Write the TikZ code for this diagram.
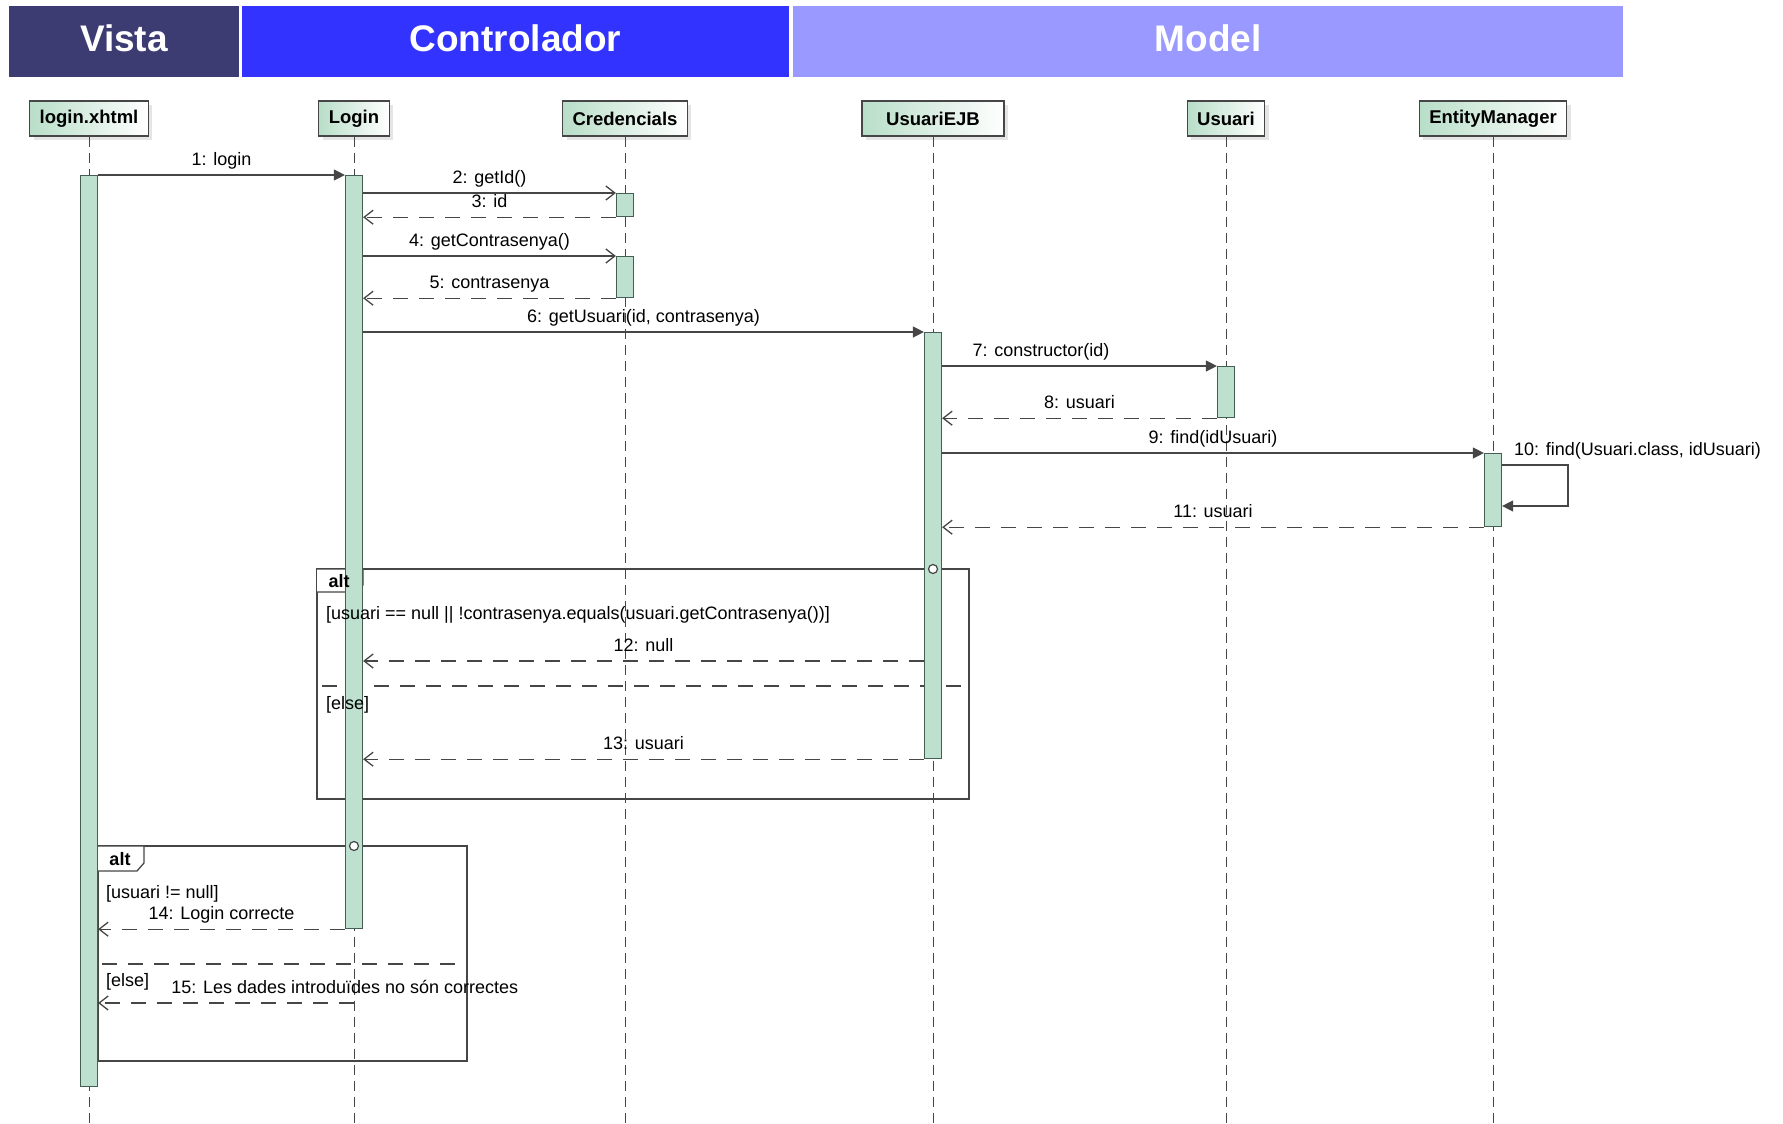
\documentclass[tikz,border=0pt]{standalone}
\usepackage{fontspec}
\setmainfont{Liberation Sans}
\usetikzlibrary{arrows.meta,shadows}
\definecolor{vistablue}{RGB}{60,60,115}
\definecolor{ctrlblue}{RGB}{51,51,255}
\definecolor{modelblue}{RGB}{153,153,255}
\definecolor{headgreen}{RGB}{184,222,200}
\definecolor{actgreen}{RGB}{190,224,206}
\definecolor{actline}{RGB}{70,95,85}
\definecolor{linegray}{RGB}{70,70,70}
\tikzset{
  layer_hdr/.style = {text=white, font=\fontsize{37}{40}\selectfont\bfseries, inner sep=0pt, minimum height=71pt,
    text height=26.5pt, text depth=7pt},
  ll_head/.style = {draw=linegray, line width=1.2pt, left color=headgreen, right color=white,
    font=\fontsize{18.5}{20}\selectfont\bfseries, minimum height=35pt, inner xsep=10pt,
    drop shadow={shadow xshift=4pt, shadow yshift=-4pt, fill=gray!40}},
  lifeline/.style = {draw=linegray, line width=1pt, dash pattern=on 10pt off 6pt},
  act_bar/.style = {draw=actline, fill=actgreen, line width=1.2pt, minimum width=17pt, inner sep=0pt, anchor=north},
  msg_sync/.style = {draw=linegray, line width=1.3pt, -{Triangle[length=11pt,width=11pt]}},
  msg_call/.style = {draw=linegray, line width=1.3pt, -{Straight Barb[length=9pt,width=14pt]}},
  msg_ret/.style = {msg_call, dash pattern=on 15pt off 11pt},
  msg_lbl/.style = {font=\fontsize{18}{20}\selectfont, above=4pt, inner sep=1pt, text=black,
    text height=13pt, text depth=4pt},
  frame/.style = {draw=linegray, line width=1.3pt},
  frame_sep/.style = {frame, dash pattern=on 15pt off 11pt},
  guard/.style = {font=\fontsize{18}{20}\selectfont, anchor=west, inner sep=0pt},
  alt_tag/.style = {font=\fontsize{18}{20}\selectfont\bfseries, inner sep=0pt},
  gate/.style = {circle, draw=linegray, fill=white, line width=1.2pt, minimum size=9pt, inner sep=0pt}
}

\begin{document}
\begin{tikzpicture}[x=1pt, y=-1pt]
\useasboundingbox (0,0) rectangle (1783,1124);
% capes
\node[layer_hdr, fill=vistablue, minimum width=230pt] (p_vista) at (124,41.5) {Vista};
\node[layer_hdr, fill=ctrlblue, minimum width=547pt] (p_ctrl) at (515.5,41.5) {Controlador};
\node[layer_hdr, fill=modelblue, minimum width=830pt] (p_model) at (1208,41.5) {Model};

% objectes
\node[ll_head] (h_view) at (89,118.5) {login.xhtml};
\node[ll_head] (h_login) at (354,118.5) {Login};
\node[ll_head] (h_cred) at (625,118.5) {Credencials};
\node[ll_head, minimum width=142pt] (h_ejb) at (933,118.5) {UsuariEJB};
\node[ll_head] (h_usu) at (1226,118.5) {Usuari};
\node[ll_head] (h_em) at (1493,118.5) {EntityManager};

\coordinate (bot) at (0,1124);
\draw[lifeline] (h_view.south) -- (h_view.south |- bot);
\draw[lifeline] (h_login.south) -- (h_login.south |- bot);
\draw[lifeline] (h_cred.south) -- (h_cred.south |- bot);
\draw[lifeline] (h_ejb.south) -- (h_ejb.south |- bot);
\draw[lifeline] (h_usu.south) -- (h_usu.south |- bot);
\draw[lifeline] (h_em.south) -- (h_em.south |- bot);

% fragments alt
\draw[frame] (317,569) rectangle (969,799);
\draw[frame, fill=white] (317,569) -- (363,569) -- (363,585) -- (356,592) -- (317,592);
\draw[frame_sep] (322,686) -- (969,686);

\draw[frame] (98,846) rectangle (467,1061);
\draw[frame, fill=white] (98,846) -- (144,846) -- (144,863) -- (137,871) -- (98,871);
\draw[frame_sep] (102,964) -- (455,964);

% activacions
\node[act_bar, minimum height=911pt] (a_view) at (89,175) {};
\node[act_bar, minimum height=753pt] (a_login) at (354,175) {};
\node[act_bar, minimum height=23pt] (a_cred1) at (625,193) {};
\node[act_bar, minimum height=41pt] (a_cred2) at (625,256) {};
\node[act_bar, minimum height=426pt] (a_ejb) at (933,332) {};
\node[act_bar, minimum height=51pt] (a_usu) at (1226,366) {};
\node[act_bar, minimum height=73pt] (a_em) at (1493,453) {};

% textos dels fragments
\node[alt_tag] (t_alt1) at (339,581) {alt};
\node[guard] (g_null) at (326,615) {[usuari == null || !contrasenya.equals(usuari.getContrasenya())]};
\node[guard] (g_else1) at (326,705) {[else]};
\node[alt_tag] (t_alt2) at (120,859) {alt};
\node[guard] (g_ok) at (106,894) {[usuari != null]};
\node[guard] (g_else2) at (106,982) {[else]};

% missatges
\coordinate (r12) at (0,661);
\coordinate (r15) at (0,1003);
\draw[msg_sync] (a_view.north east) -- (a_login.north west) node[msg_lbl, midway] {1: login};
\draw[msg_call] (a_cred1.north west -| a_login.east) -- (a_cred1.north west) node[msg_lbl, midway] {2: getId()};
\draw[msg_ret] (a_cred1.south west) -- (a_cred1.south west -| a_login.east) node[msg_lbl, midway] {3: id};
\draw[msg_call] (a_cred2.north west -| a_login.east) -- (a_cred2.north west) node[msg_lbl, midway] {4: getContrasenya()};
\draw[msg_ret] (a_cred2.south west) -- (a_cred2.south west -| a_login.east) node[msg_lbl, midway] {5: contrasenya};
\draw[msg_sync] (a_ejb.north west -| a_login.east) -- (a_ejb.north west) node[msg_lbl, midway] {6: getUsuari(id, contrasenya)};
\draw[msg_sync] (a_usu.north west -| a_ejb.east) -- (a_usu.north west) node[msg_lbl, pos=0.36] {7: constructor(id)};
\draw[msg_ret] (a_usu.south west) -- (a_usu.south west -| a_ejb.east) node[msg_lbl, midway] {8: usuari};
\draw[msg_sync] (a_em.north west -| a_ejb.east) -- (a_em.north west) node[msg_lbl, midway] {9: find(idUsuari)};
\draw[msg_sync] ([yshift=-12pt]a_em.north east) -- ++(66,0) |- ([yshift=-53pt]a_em.north east);
\node[msg_lbl, above=0pt, anchor=west] (l_find) at (1513,455) {10: find(Usuari.class, idUsuari)};
\draw[msg_ret] (a_em.south west) -- (a_em.south west -| a_ejb.east) node[msg_lbl, midway] {11: usuari};
\draw[msg_ret] (r12 -| a_ejb.west) -- (r12 -| a_login.east) node[msg_lbl, midway] {12: null};
\draw[msg_ret] (a_ejb.south west) -- (a_ejb.south west -| a_login.east) node[msg_lbl, midway] {13: usuari};
\draw[msg_ret] (a_login.south west) -- (a_login.south west -| a_view.east) node[msg_lbl, midway] {14: Login correcte};
\draw[msg_ret] (r15 -| h_login) -- (r15 -| a_view.east) node[msg_lbl, pos=0.72, anchor=south west] {15: Les dades introduïdes no són correctes};

% portes
\node[gate] (c_alt1) at (933,569) {};
\node[gate] (c_alt2) at (354,846) {};
\end{tikzpicture}
\end{document}
